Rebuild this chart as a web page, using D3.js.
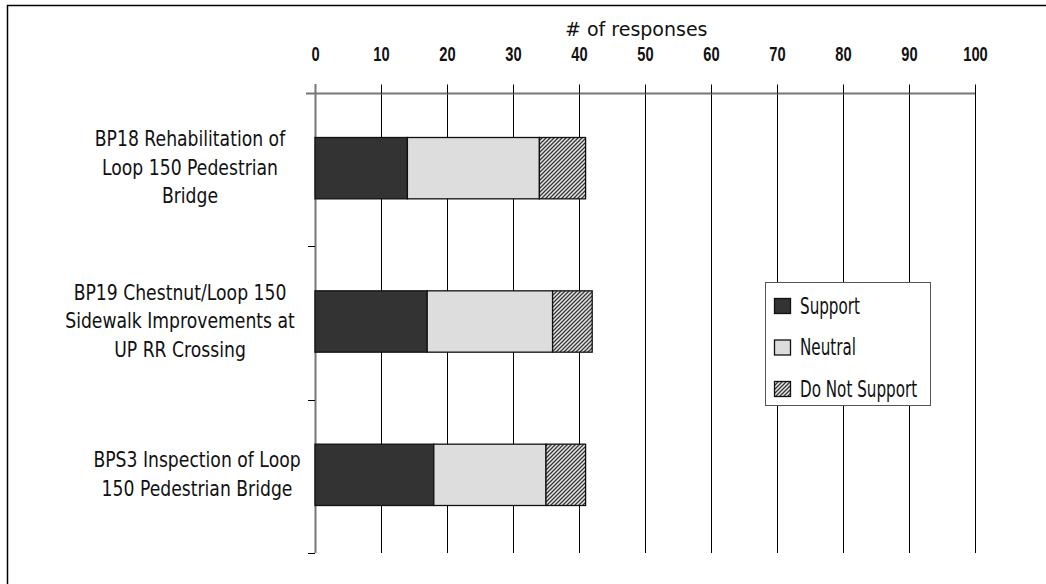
<!DOCTYPE html>
<html><head><meta charset="utf-8">
<script src="https://cdn.jsdelivr.net/npm/d3@7/dist/d3.min.js"></script>
<style>
body{margin:0;background:#fff;}
svg{display:block;font-family:"DejaVu Sans",sans-serif;}
</style></head><body>
<svg id="c" width="1046" height="584"></svg>
<script>
const categories = [
  ["BP18 Rehabilitation of","Loop 150 Pedestrian","Bridge"],
  ["BP19 Chestnut/Loop 150","Sidewalk Improvements at","UP RR Crossing"],
  ["BPS3 Inspection of Loop","150 Pedestrian Bridge"]
];
const seriesNames = ["Support","Neutral","Do Not Support"];
const support = [14, 17, 18];
const neutral = [20, 19, 17];
const doNotSupport = [7, 6, 6];
const xTicks = [0,10,20,30,40,50,60,70,80,90,100];
const axisTitle = "# of responses";

// layout (not data)
const labelCenters = [190, 180, 197];

const svg = d3.select("#c");
const defs = svg.append("defs");
const pat = defs.append("pattern").attr("id","hatch").attr("patternUnits","userSpaceOnUse")
  .attr("width",4).attr("height",4);
pat.append("rect").attr("width",4).attr("height",4).attr("fill","#e6e6e6");
pat.append("path").attr("d","M-1,1 l2,-2 M0,4 l4,-4 M3,5 l2,-2").attr("stroke","#383838").attr("stroke-width",1.3);

function ctext(g, x, y, str, size, sx, anchor, weight){
  return g.append("text").attr("transform",`translate(${x},${y}) scale(${sx},1)`)
    .attr("text-anchor",anchor).attr("font-size",size).attr("font-weight",weight||"normal")
    .attr("fill","#111").text(str);
}

// frame
svg.append("path").attr("d","M7.5,600 V5.5 H1060").attr("fill","none").attr("stroke","#000").attr("stroke-width",1.5);

const x = d3.scaleLinear().domain([0,100]).range([315,975]);
const y = d3.scaleBand().domain(d3.range(categories.length)).range([93,553]).paddingInner(0.6).paddingOuter(0.3);

// gridlines
svg.append("g").selectAll("line").data(xTicks.slice(1)).join("line")
  .attr("x1",d=>x(d)+0.5).attr("x2",d=>x(d)+0.5).attr("y1",93).attr("y2",553)
  .attr("stroke","#000").attr("stroke-width",1);

// top axis
const gx = svg.append("g").attr("transform","translate(0,93.5)")
  .call(d3.axisTop(x).tickValues(xTicks).tickSize(9).tickSizeOuter(0).tickPadding(24));
gx.select(".domain").attr("stroke","#777").attr("stroke-width",2).attr("d","M306,0H975");
gx.selectAll(".tick line").attr("stroke","#000");
gx.selectAll(".tick text").attr("font-size",21).attr("font-weight","bold").attr("fill","#111")
  .attr("font-family","inherit").attr("transform","scale(0.7,1)");

ctext(svg, 565, 36, axisTitle, 19, 1, "start");

// left axis
svg.append("line").attr("x1",315.5).attr("x2",315.5).attr("y1",84).attr("y2",553).attr("stroke","#777").attr("stroke-width",2);
const bounds = d3.range(1, categories.length+1).map(i => 93 + i*y.step());
svg.append("g").selectAll("line").data(bounds).join("line")
  .attr("x1",308).attr("x2",315).attr("y1",d=>Math.round(d)+0.5).attr("y2",d=>Math.round(d)+0.5).attr("stroke","#000");

// stacked bars
const rows = categories.map((c,i)=>({i, Support:support[i], Neutral:neutral[i], "Do Not Support":doNotSupport[i]}));
const stack = d3.stack().keys(seriesNames)(rows);
const fills = {"Support":"#333333","Neutral":"#dddddd","Do Not Support":"url(#hatch)"};
svg.append("g").selectAll("g").data(stack).join("g").attr("fill",d=>fills[d.key])
  .selectAll("rect").data(d=>d).join("rect")
  .attr("x",d=>x(d[0])).attr("width",d=>x(d[1])-x(d[0]))
  .attr("y",(d,i)=>y(i)-1.5).attr("height",y.bandwidth())
  .attr("stroke","#111").attr("stroke-width",1.3);

// category labels
const lab = svg.append("g");
categories.forEach((lines,i)=>{
  const cy = y(i)+y.bandwidth()/2;
  lines.forEach((l,j)=>{
    ctext(lab, labelCenters[i], cy + (j-(lines.length-1)/2)*28.5 + 5, l, 20.5, 0.84, "middle");
  });
});

// legend
const lg = svg.append("g");
lg.append("rect").attr("x",765.5).attr("y",282.5).attr("width",165).attr("height",123).attr("fill","#fff").attr("stroke","#555");
seriesNames.forEach((s,i)=>{
  const base = 313.5 + i*41.5;
  lg.append("rect").attr("x",774.5).attr("y",base-15).attr("width",16).attr("height",15).attr("fill",fills[s]).attr("stroke","#111").attr("stroke-width",1.3);
  ctext(lg, 800, base, s, 23, 0.66, "start");
});
</script></body></html>
